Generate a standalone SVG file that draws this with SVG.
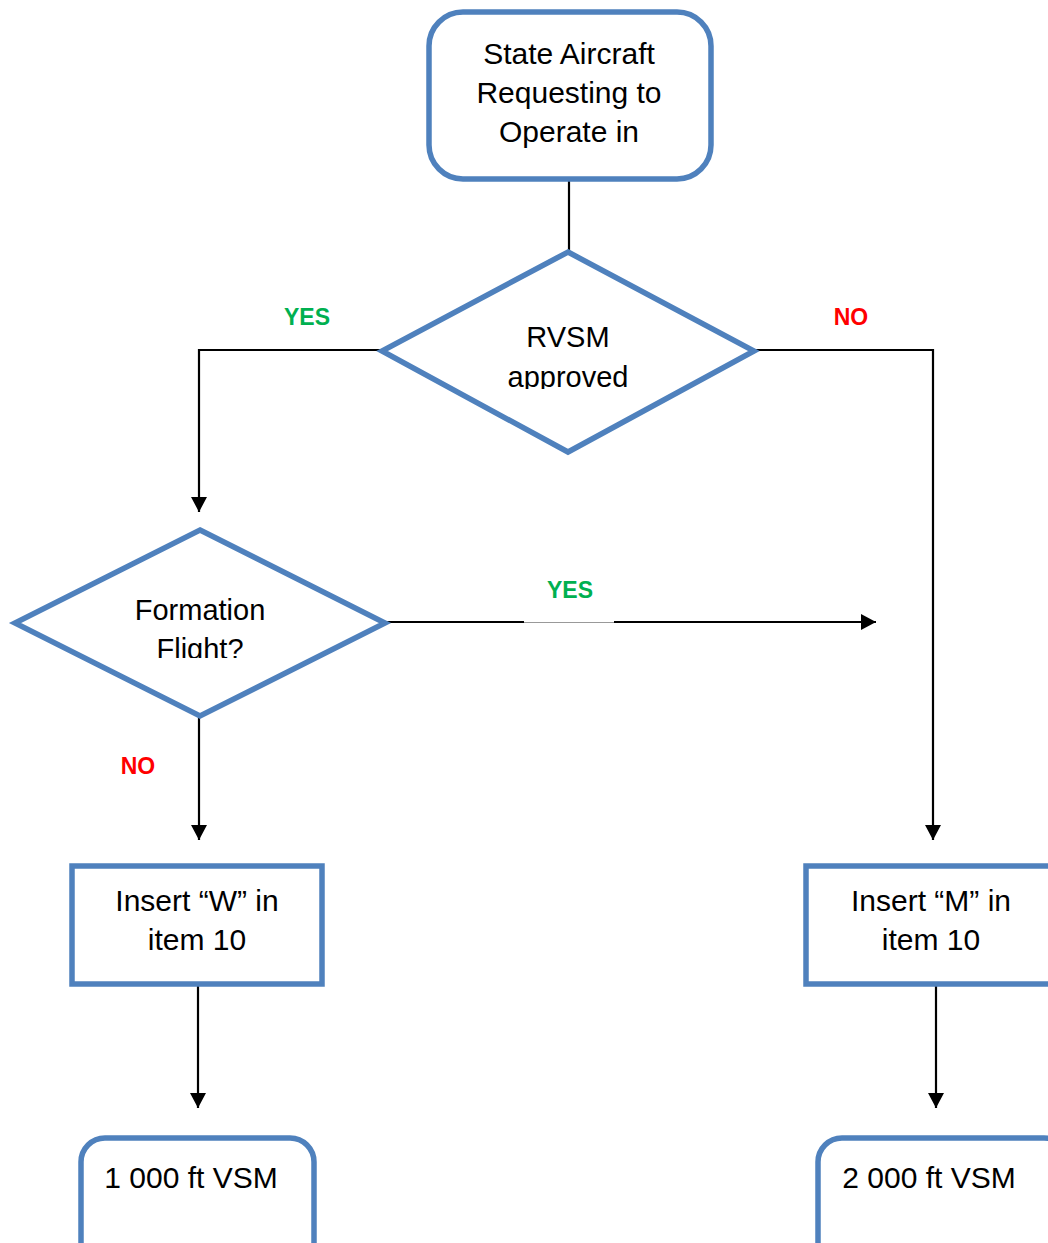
<svg xmlns="http://www.w3.org/2000/svg" width="1048" height="1243" viewBox="0 0 1048 1243">
<style>
.node{fill:#fff;stroke:#4F81BD;stroke-width:5.5}
.t{font-family:"Liberation Sans",Arial,sans-serif;font-size:30px;fill:#000;text-anchor:middle}
.dt{font-family:"Liberation Sans",Arial,sans-serif;font-size:29px;fill:#000;text-anchor:middle}
.lbl{font-family:"Liberation Sans",Arial,sans-serif;font-size:23px;font-weight:bold;text-anchor:middle}
.yes{fill:#00B050}.no{fill:#FF0000}
.c{fill:none;stroke:#000;stroke-width:2.2}
</style>
<defs>
<marker id="ah" markerUnits="userSpaceOnUse" markerWidth="16" markerHeight="16" refX="15" refY="8" orient="auto">
<path d="M0,0 L15,8 L0,16 z" fill="#000"/>
</marker>
<clipPath id="clip1"><rect x="380" y="250" width="380" height="139"/></clipPath>
<clipPath id="clip2"><rect x="10" y="525" width="380" height="133"/></clipPath>
</defs>
<g id="connectors">
<path class="c" d="M569,180 V252"/>
<path class="c" d="M383,350 H199 V512" marker-end="url(#ah)"/>
<path class="c" d="M753,350 H933 V840" marker-end="url(#ah)"/>
<path class="c" d="M385,622 H524"/>
<path d="M524,622.5 H614" stroke="#999" stroke-width="1"/>
<path class="c" d="M614,622 H876" marker-end="url(#ah)"/>
<path class="c" d="M199,717 V840" marker-end="url(#ah)"/>
<path class="c" d="M198,985 V1108" marker-end="url(#ah)"/>
<path class="c" d="M936,985 V1108" marker-end="url(#ah)"/>
</g>
<g id="labels">
<text class="lbl yes" x="307" y="325">YES</text>
<text class="lbl no" x="851" y="325">NO</text>
<text class="lbl yes" x="570" y="598">YES</text>
<text class="lbl no" x="138" y="774">NO</text>
</g>
<g id="start">
<rect class="node" x="429" y="12" width="282" height="167" rx="34"/>
<text class="t" x="569" y="64">State Aircraft</text>
<text class="t" x="569" y="103">Requesting to</text>
<text class="t" x="569" y="142">Operate in</text>
</g>
<g id="rvsm">
<polygon class="node" points="568,252 754,351 568,452 382,351"/>
<g clip-path="url(#clip1)">
<text class="dt" x="568" y="347">RVSM</text>
<text class="dt" x="568" y="387">approved</text>
</g>
</g>
<g id="formation">
<polygon class="node" points="200,530 385,623 200,716 15,623"/>
<g clip-path="url(#clip2)">
<text class="dt" x="200" y="620">Formation</text>
<text class="dt" x="200" y="659">Flight?</text>
</g>
</g>
<g id="insertW">
<rect class="node" x="72" y="866" width="250" height="118"/>
<text class="t" x="197" y="911">Insert “W” in</text>
<text class="t" x="197" y="950">item 10</text>
</g>
<g id="insertM">
<rect class="node" x="806" y="866" width="260" height="118"/>
<text class="t" x="931" y="911">Insert “M” in</text>
<text class="t" x="931" y="950">item 10</text>
</g>
<g id="vsm1000">
<rect class="node" x="81" y="1138" width="233" height="140" rx="24"/>
<text class="t" x="191" y="1188">1 000 ft VSM</text>
</g>
<g id="vsm2000">
<rect class="node" x="818" y="1138" width="250" height="140" rx="24"/>
<text class="t" x="929" y="1188">2 000 ft VSM</text>
</g>
</svg>
